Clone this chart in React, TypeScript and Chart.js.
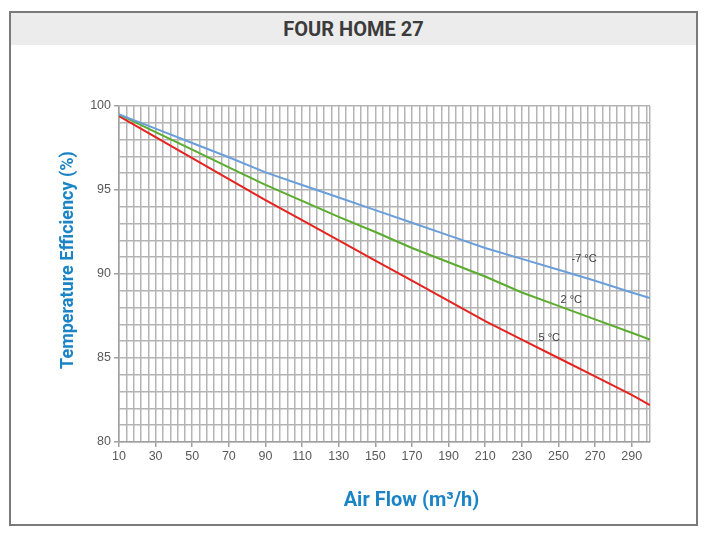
import React, { useEffect, useRef } from "react";
import { Chart, registerables } from "chart.js";

Chart.register(...registerables);

// ---- data ----
const flows = [10, 30, 50, 70, 90, 110, 130, 150, 170, 190, 210, 230, 250, 270, 290, 300];
const effMinus7 = [99.5, 98.65, 97.8, 96.95, 96.05, 95.3, 94.55, 93.8, 93.05, 92.3, 91.55, 90.9, 90.25, 89.6, 88.9, 88.57];
const eff2 = [99.5, 98.45, 97.4, 96.35, 95.3, 94.35, 93.4, 92.5, 91.55, 90.7, 89.85, 88.9, 88.1, 87.3, 86.5, 86.1];
const eff5 = [99.4, 98.15, 96.9, 95.65, 94.4, 93.2, 92.0, 90.8, 89.6, 88.4, 87.2, 86.1, 85.0, 83.9, 82.8, 82.2];
const seriesNames = ["-7 °C", "2 °C", "5 °C"];
const labelFlow = [264, 257, 245];
const labelEff = [90.9, 88.45, 86.2];
const xMin = 10;
const xMax = 300;
const yMin = 80;
const yMax = 100;

const title = "FOUR HOME 27";
const yTitle = "Temperature Efficiency (%)";
const xTitle = "Air Flow (m³/h)";

const colors = ["#6a9fdb", "#5bac2f", "#e52420"];
const gridColor = "#b4b4b4";

const xTickValues: number[] = [];
for (let v = xMin; v < xMax; v += 4) xTickValues.push(v);
xTickValues.push(xMax);
const isMajorX = (v: number) => (v - xMin) % 20 === 0 && v <= 290;
const isMajorY = (v: number) => v % 5 === 0;

const overlay = {
  id: "overlay",
  afterDraw(chart: any) {
    const { ctx, chartArea, scales } = chart;
    ctx.save();
    // series labels
    ctx.font = "11px 'Liberation Sans', Arial, sans-serif";
    ctx.fillStyle = "#404040";
    ctx.textAlign = "center";
    ctx.textBaseline = "middle";
    seriesNames.forEach((n, i) => {
      ctx.fillText(n, scales.x.getPixelForValue(labelFlow[i]), scales.y.getPixelForValue(labelEff[i]));
    });
    // axis titles
    ctx.fillStyle = "#1b84c6";
    ctx.font = "bold 20px Roboto, sans-serif";
    ctx.fillText(xTitle, (chartArea.left + chartArea.right) / 2 + 27, chartArea.bottom + 59);
    ctx.font = "bold 18px Roboto, sans-serif";
    ctx.translate(chartArea.left - 51, (chartArea.top + chartArea.bottom) / 2 - 14);
    ctx.rotate(-Math.PI / 2);
    ctx.fillText(yTitle, 0, 0);
    ctx.restore();
  },
};

export default function App() {
  const ref = useRef<HTMLCanvasElement>(null);
  useEffect(() => {
    if (!ref.current) return;
    const mk = (vals: number[]) => flows.map((f, i) => ({ x: f, y: vals[i] }));
    const chart = new Chart(ref.current, {
      type: "line",
      data: {
        datasets: [effMinus7, eff2, eff5].map((vals, i) => ({
          label: seriesNames[i],
          data: mk(vals),
          borderColor: colors[i],
          borderWidth: 2,
          pointRadius: 0,
          tension: 0,
          fill: false,
        })),
      },
      options: {
        responsive: false,
        animation: false,
        devicePixelRatio: 1,
        layout: { padding: { top: 60, right: 46, bottom: 51, left: 0 } },
        plugins: { legend: { display: false }, tooltip: { enabled: false }, title: { display: false } },
        scales: {
          x: {
            type: "linear",
            min: xMin,
            max: xMax,
            afterBuildTicks: (scale: any) => {
              scale.ticks = xTickValues.map((v) => ({ value: v }));
            },
            afterFit: (scale: any) => {
              scale.height = 30;
            },
            grid: {
              color: gridColor,
              lineWidth: 1.5,
              tickLength: 5,
              tickColor: (c: any) => (c.tick && isMajorX(c.tick.value) ? "#a0a0a0" : "rgba(0,0,0,0)"),
            },
            border: { color: "#a0a0a0", width: 1.5 },
            ticks: {
              autoSkip: false,
              maxRotation: 0,
              padding: 2,
              color: "#595959",
              font: { family: "'Liberation Sans', Arial, sans-serif", size: 12.5 },
              callback: (v: any) => (isMajorX(Number(v)) ? String(v) : ""),
            },
          },
          y: {
            min: yMin,
            max: yMax,
            afterFit: (scale: any) => {
              scale.width = 108;
            },
            grid: {
              color: gridColor,
              lineWidth: 1.5,
              tickLength: 5,
              tickColor: (c: any) => (c.tick && isMajorY(c.tick.value) ? "#a0a0a0" : "rgba(0,0,0,0)"),
            },
            border: { color: "#a0a0a0", width: 1.5 },
            ticks: {
              stepSize: 1,
              autoSkip: false,
              padding: 3,
              color: "#595959",
              font: { family: "'Liberation Sans', Arial, sans-serif", size: 12.5 },
              callback: (v: any) => (isMajorY(Number(v)) ? String(v) : ""),
            },
          },
        },
      },
      plugins: [overlay],
    } as any);
    return () => chart.destroy();
  }, []);

  return (
    <div style={{ position: "fixed", left: 0, top: 0, width: 705, height: 538, background: "#fff" }}>
      <div
        style={{
          position: "absolute",
          left: 9,
          top: 11,
          width: 689,
          height: 515,
          border: "2px solid #7a7a7a",
          boxSizing: "border-box",
        }}
      />
      <div
        style={{
          position: "absolute",
          left: 11,
          top: 13,
          width: 685,
          height: 32,
          background: "#ececec",
          color: "#3b3b3b",
          font: "bold 20px Roboto, sans-serif",
          lineHeight: "32px",
          textAlign: "center",
        }}
      >
        {title}
      </div>
      <canvas ref={ref} width={685} height={477} style={{ position: "absolute", left: 11, top: 46 }} />
    </div>
  );
}
